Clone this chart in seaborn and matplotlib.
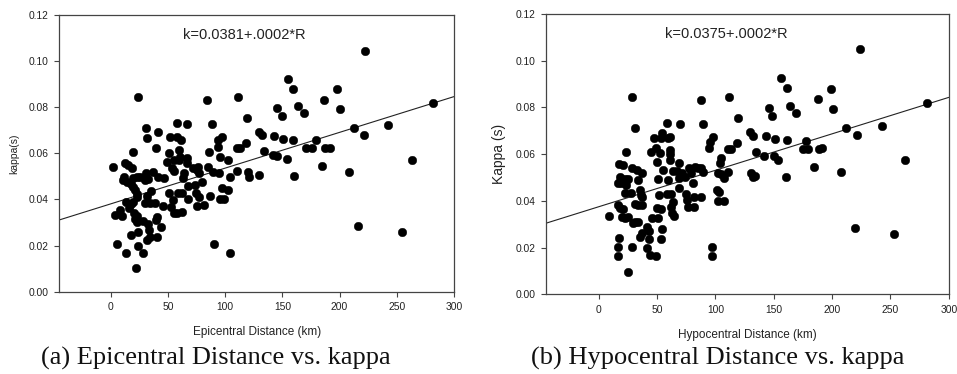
import matplotlib
matplotlib.use("Agg")
import matplotlib.pyplot as plt
import seaborn as sns
import pandas as pd

# Epicentral distance (km) and kappa (s)
epi_dist = [
    222.2, 155.3, 159.6, 198.0, 186.4, 200.4, 164.0, 169.0, 145.0, 149.4,
    111.6, 83.9, 119.4, 282.0, 212.6, 242.0, 221.4, 263.0, 216.4, 254.3,
    208.3, 184.4, 171.0, 175.6, 179.4, 187.3, 191.7, 159.6, 150.9, 142.7,
    141.6, 145.7, 153.8, 160.2, 129.9, 132.0, 134.0, 129.9, 118.3, 120.3,
    121.2, 110.0, 113.0, 110.6, 102.8, 104.3, 102.8, 104.3, 90.3, 95.5,
    99.0, 97.0, 95.5, 97.0, 94.1, 94.1, 94.7, 88.8, 86.2, 85.3,
    89.7, 86.8, 80.1, 81.6, 76.6, 77.5, 75.2, 72.2, 73.7, 74.6,
    77.2, 75.2, 66.4, 66.4, 66.4, 67.9, 67.9, 64.1, 63.5, 57.7,
    58.2, 61.4, 59.7, 60.6, 59.7, 54.8, 51.9, 51.3, 48.9, 53.9,
    54.8, 51.3, 54.2, 52.4, 55.6, 58.5, 62.0, 62.0, 57.7, 46.6,
    41.6, 39.6, 41.6, 45.2, 37.3, 38.2, 40.2, 39.6, 43.7, 40.2,
    34.4, 31.5, 30.6, 32.0, 30.6, 32.9, 30.0, 32.0, 35.0, 34.4,
    30.0, 32.9, 33.2, 27.7, 25.6, 22.7, 19.2, 18.4, 15.4, 11.6,
    10.5, 14.0, 17.5, 19.2, 21.3, 22.7, 23.3, 13.0, 17.5, 19.8,
    16.3, 8.2, 3.8, 9.6, 20.7, 21.3, 22.7, 23.3, 2.3, 24.0,
    5.0, 13.0, 22.0, 17.5, 23.5, 23.5, 28.5, 19.0, 12.5,
]
epi_kappa = [
    0.1045, 0.0924, 0.0879, 0.0879, 0.0831, 0.0791, 0.0807, 0.0774, 0.0795, 0.0762,
    0.0843, 0.0831, 0.0755, 0.0817, 0.0710, 0.0722, 0.0681, 0.0571, 0.0285, 0.0257,
    0.0520, 0.0545, 0.0622, 0.0625, 0.0658, 0.0622, 0.0625, 0.0658, 0.0661, 0.0675,
    0.0593, 0.0590, 0.0574, 0.0503, 0.0694, 0.0680, 0.0610, 0.0506, 0.0646, 0.0520,
    0.0496, 0.0622, 0.0622, 0.0525, 0.0571, 0.0499, 0.0441, 0.0166, 0.0205, 0.0400,
    0.0400, 0.0451, 0.0586, 0.0672, 0.0658, 0.0626, 0.0513, 0.0727, 0.0607, 0.0542,
    0.0520, 0.0416, 0.0474, 0.0376, 0.0542, 0.0513, 0.0528, 0.0535, 0.0463, 0.0427,
    0.0412, 0.0372, 0.0727, 0.0581, 0.0560, 0.0460, 0.0403, 0.0513, 0.0492, 0.0733,
    0.0672, 0.0658, 0.0615, 0.0586, 0.0571, 0.0571, 0.0672, 0.0600, 0.0561, 0.0535,
    0.0525, 0.0427, 0.0398, 0.0369, 0.0340, 0.0427, 0.0427, 0.0347, 0.0340, 0.0492,
    0.0693, 0.0622, 0.0499, 0.0372, 0.0520, 0.0383, 0.0325, 0.0311, 0.0279, 0.0239,
    0.0239, 0.0224, 0.0709, 0.0668, 0.0516, 0.0489, 0.0484, 0.0415, 0.0438, 0.0383,
    0.0383, 0.0294, 0.0268, 0.0308, 0.0499, 0.0496, 0.0492, 0.0535, 0.0548, 0.0496,
    0.0484, 0.0477, 0.0467, 0.0453, 0.0441, 0.0424, 0.0412, 0.0388, 0.0380, 0.0390,
    0.0362, 0.0354, 0.0333, 0.0328, 0.0340, 0.0314, 0.0328, 0.0304, 0.0542, 0.0846,
    0.0205, 0.0166, 0.0101, 0.0244, 0.0260, 0.0198, 0.0169, 0.0607, 0.0557,
]

# Hypocentral distance (km) and kappa (s)
hypo_dist = [
    223.7, 156.0, 160.9, 198.9, 188.0, 200.6, 163.7, 168.9, 146.0, 148.6,
    111.4, 87.4, 119.4, 281.4, 211.7, 243.1, 221.7, 262.6, 220.0, 252.9,
    208.0, 184.6, 175.1, 178.9, 177.4, 188.6, 191.4, 160.9, 150.9, 142.9,
    141.7, 150.0, 153.7, 160.3, 130.0, 132.3, 134.6, 130.3, 132.3, 134.3,
    118.3, 110.9, 113.1, 110.9, 105.1, 104.0, 102.0, 104.6, 107.4, 100.9,
    102.9, 102.3, 107.4, 97.4, 97.4, 98.0, 95.1, 94.6, 89.4, 87.4,
    89.4, 85.1, 82.3, 87.4, 80.9, 81.7, 81.7, 70.0, 69.1, 67.4,
    71.0, 69.1, 77.7, 78.6, 73.7, 68.6, 74.3, 76.0, 76.6, 58.6,
    60.9, 59.4, 54.3, 47.1, 52.9, 60.9, 60.9, 60.9, 48.9, 52.3,
    45.1, 50.0, 55.4, 58.9, 64.0, 50.6, 51.4, 58.6, 61.7, 64.0,
    61.7, 62.9, 64.6, 50.0, 52.9, 50.6, 45.7, 54.3, 53.1, 41.4,
    42.9, 42.9, 40.9, 43.7, 48.6, 37.1, 35.1, 28.6, 30.9, 22.9,
    28.0, 24.6, 8.6, 17.1, 20.9, 18.0, 19.4, 16.6, 22.3, 25.1,
    23.7, 22.3, 27.4, 18.0, 16.6, 20.9, 20.0, 22.3, 25.1, 17.4,
    16.6, 16.6, 28.6, 33.1, 37.1, 33.7, 34.9, 36.3, 36.6, 30.9,
    33.7, 36.6, 30.9, 33.7, 29.4,
]
hypo_kappa = [
    0.1049, 0.0928, 0.0882, 0.0879, 0.0835, 0.0792, 0.0808, 0.0775, 0.0796, 0.0763,
    0.0845, 0.0832, 0.0756, 0.0818, 0.0711, 0.0722, 0.0681, 0.0574, 0.0285, 0.0257,
    0.0522, 0.0547, 0.0622, 0.0622, 0.0658, 0.0622, 0.0625, 0.0661, 0.0664, 0.0678,
    0.0594, 0.0592, 0.0575, 0.0504, 0.0696, 0.0678, 0.0611, 0.0518, 0.0504, 0.0507,
    0.0649, 0.0622, 0.0622, 0.0525, 0.0582, 0.0561, 0.0518, 0.0515, 0.0497, 0.0447,
    0.0440, 0.0400, 0.0400, 0.0204, 0.0166, 0.0672, 0.0654, 0.0625, 0.0729, 0.0539,
    0.0522, 0.0539, 0.0547, 0.0418, 0.0475, 0.0418, 0.0375, 0.0729, 0.0561, 0.0528,
    0.0518, 0.0497, 0.0539, 0.0518, 0.0504, 0.0454, 0.0428, 0.0404, 0.0372, 0.0735,
    0.0675, 0.0668, 0.0692, 0.0669, 0.0669, 0.0618, 0.0601, 0.0575, 0.0625, 0.0604,
    0.0611, 0.0565, 0.0532, 0.0490, 0.0528, 0.0494, 0.0425, 0.0428, 0.0428, 0.0397,
    0.0372, 0.0350, 0.0335, 0.0368, 0.0365, 0.0325, 0.0325, 0.0278, 0.0237, 0.0290,
    0.0273, 0.0235, 0.0197, 0.0168, 0.0166, 0.0261, 0.0247, 0.0846, 0.0713, 0.0608,
    0.0201, 0.0097, 0.0335, 0.0558, 0.0554, 0.0504, 0.0475, 0.0475, 0.0494, 0.0494,
    0.0468, 0.0432, 0.0435, 0.0368, 0.0382, 0.0364, 0.0330, 0.0325, 0.0332, 0.0243,
    0.0204, 0.0164, 0.0539, 0.0532, 0.0518, 0.0489, 0.0447, 0.0425, 0.0418, 0.0387,
    0.0382, 0.0382, 0.0311, 0.0311, 0.0307,
]

# Linear fits k = a + b*R
epi_fit = (0.0381, 0.000155)
hypo_fit = (0.0375, 0.000156)

x_ticks = [0, 50, 100, 150, 200, 250, 300]
y_ticks = [0.00, 0.02, 0.04, 0.06, 0.08, 0.10, 0.12]

panels = [
    dict(x=epi_dist, y=epi_kappa, fit=epi_fit,
         xlabel="Epicentral Distance (km)", ylabel="kappa(s)", ylsize=7.5,
         caption="(a) Epicentral Distance vs. kappa", cap_x=0.226,
         rect=[0.062, 0.220, 0.4124, 0.740], note_x=117),
    dict(x=hypo_dist, y=hypo_kappa, fit=hypo_fit,
         xlabel="Hypocentral Distance (km)", ylabel="Kappa (s)", ylsize=10,
         caption="(b) Hypocentral Distance vs. kappa", cap_x=0.7495,
         rect=[0.5709, 0.2131, 0.4205, 0.7495], note_x=109),
]

sns.set_theme(style="ticks")
plt.rcParams["font.family"] = ["Liberation Sans", "DejaVu Sans"]

fig = plt.figure(figsize=(9.57, 3.74), dpi=100)

def fit_label(a, b):
    return "k=" + f"{a:.4f}" + "+" + f"{b:.4f}".lstrip("0") + "*R"

for p in panels:
    ax = fig.add_axes(p["rect"])
    df = pd.DataFrame({"dist": p["x"], "kappa": p["y"]})
    sns.scatterplot(data=df, x="dist", y="kappa", ax=ax, color="black",
                    s=38, edgecolor="black", linewidth=0.3, zorder=3)
    ax.set_xlim(-45, 300)
    ax.set_ylim(0, 0.12)
    a, b = p["fit"]
    ax.axline((0, a), slope=b, color="#222222", lw=0.8, zorder=2)
    ax.set_xticks(x_ticks)
    ax.set_yticks(y_ticks)
    ax.set_yticklabels([f"{v:.2f}" for v in y_ticks])
    ax.tick_params(axis="both", direction="out", length=3.5, width=0.8,
                   color="#444444", labelsize=7.4, labelcolor="#222222", pad=4)
    for sp in ax.spines.values():
        sp.set_color("#444444")
        sp.set_linewidth(0.9)
    ax.set_xlabel(p["xlabel"], fontsize=8.5, color="#222222", labelpad=10)
    ax.set_ylabel(p["ylabel"], fontsize=p["ylsize"], color="#222222", labelpad=7)
    ax.text(p["note_x"], 0.1115, fit_label(a, b), ha="center", va="center",
            fontsize=10.5, color="#222222")
    fig.text(p["cap_x"], 0.042, p["caption"], ha="center", va="center",
             fontsize=19, family=["Liberation Serif", "DejaVu Serif"],
             color="#111111")

fig.savefig("out.png", dpi=100)
